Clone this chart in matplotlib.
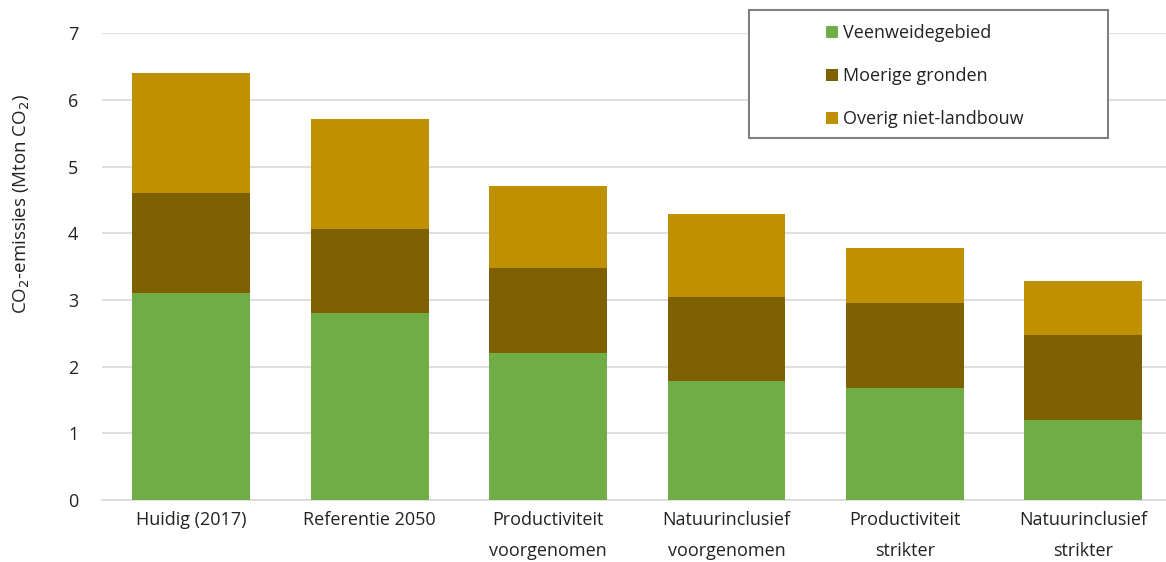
import matplotlib.pyplot as plt
from matplotlib.patches import Rectangle
import numpy as np

plt.rcParams['font.family'] = ['Open Sans', 'DejaVu Sans']

categories = ["Huidig (2017)", "Referentie 2050", "Productiviteit\nvoorgenomen",
              "Natuurinclusief\nvoorgenomen", "Productiviteit\nstrikter", "Natuurinclusief\nstrikter"]
veenweide = [3.10, 2.80, 2.20, 1.78, 1.68, 1.20]
moerig = [1.50, 1.27, 1.28, 1.27, 1.27, 1.27]
overig = [1.81, 1.65, 1.23, 1.24, 0.83, 0.82]

colors = ["#70ad47", "#7f6000", "#bf9000"]
txt = "#222222"

fig = plt.figure(figsize=(11.66, 5.62), dpi=100)
ax = fig.add_axes([0.0875, 0.110, 0.915, 0.831])

x = np.arange(len(categories))
w = 0.66
ax.bar(x, veenweide, w, color=colors[0], label="Veenweidegebied", zorder=3)
ax.bar(x, moerig, w, bottom=veenweide, color=colors[1], label="Moerige gronden", zorder=3)
bottom2 = np.array(veenweide) + np.array(moerig)
ax.bar(x, overig, w, bottom=bottom2, color=colors[2], label="Overig niet-landbouw", zorder=3)

ax.set_xlim(-0.5, 5.48)
ax.set_ylim(0, 7)
ax.set_yticks(range(0, 8))
ax.set_xticks(x)
ax.set_xticklabels(categories, fontsize=13, color=txt, linespacing=1.9)
ax.tick_params(axis='y', labelsize=13, colors=txt, length=0, pad=17)
ax.tick_params(axis='x', length=0, pad=8)
ax.grid(axis='y', color="#d9d9d9", linewidth=1.2, zorder=0)
for s in ['top', 'right', 'left']:
    ax.spines[s].set_visible(False)
ax.spines['bottom'].set_color("#d9d9d9")
ax.spines['bottom'].set_linewidth(1.2)

ax.set_ylabel("CO$_2$-emissies (Mton CO$_2$)", fontsize=13.5, color=txt, labelpad=19)
ax.yaxis.set_label_coords(-0.066, 0.634)

# legend box is wider than its entries
fig.patches.append(Rectangle((0.642, 0.7544), 0.308, 0.2278, transform=fig.transFigure,
                             facecolor="white", edgecolor="#808080", linewidth=1.5, zorder=5))
leg = fig.legend(loc='upper left', bbox_to_anchor=(0.7085, 0.957), fontsize=13,
                 frameon=False, handlelength=0.65, handleheight=0.65, handletextpad=0.3,
                 labelspacing=1.38, borderpad=0, borderaxespad=0)
for t in leg.get_texts():
    t.set_color(txt)

fig.savefig("out.png", dpi=100)
